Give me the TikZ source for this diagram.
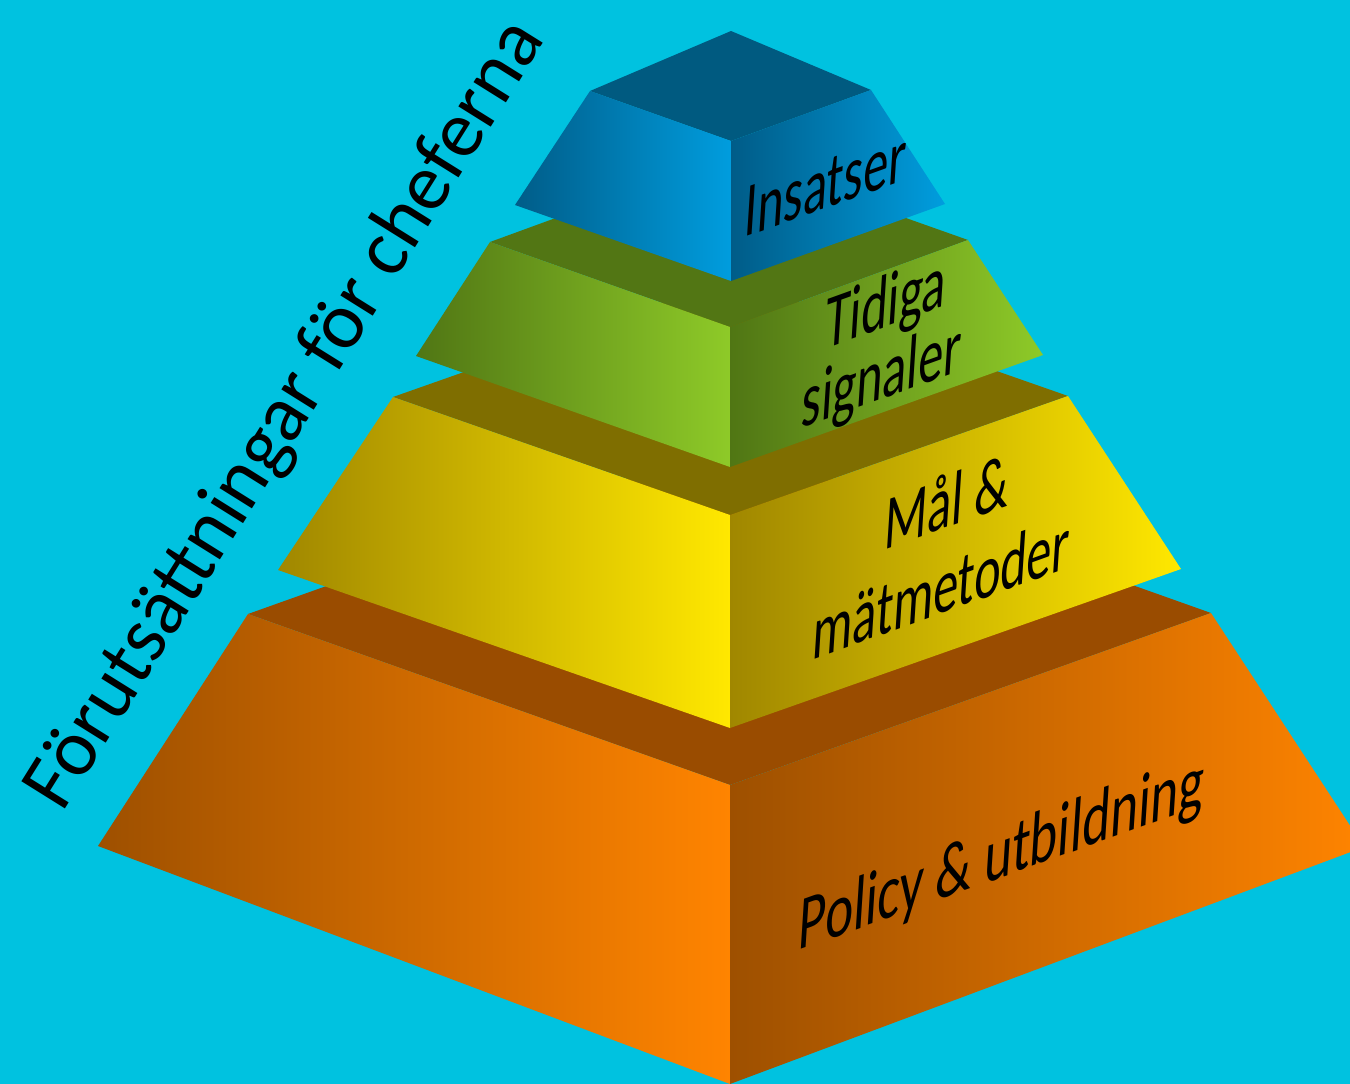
\documentclass[tikz,border=0pt]{standalone}
\usepackage{fontspec}
\setmainfont{Carlito}
\usepackage{tikz}

\definecolor{sky}{RGB}{0,194,224}
\definecolor{blueTop}{RGB}{0,90,128}
\definecolor{blueDark}{RGB}{0,92,136}
\definecolor{blueLight}{RGB}{0,157,222}
\definecolor{greenTop}{RGB}{82,118,20}
\definecolor{greenDark}{RGB}{80,118,20}
\definecolor{greenLight}{RGB}{142,202,40}
\definecolor{yellowTop}{RGB}{127,110,0}
\definecolor{yellowDark}{RGB}{160,135,0}
\definecolor{yellowLight}{RGB}{255,232,0}
\definecolor{orangeTop}{RGB}{154,76,0}
\definecolor{orangeDark}{RGB}{158,80,0}
\definecolor{orangeLight}{RGB}{255,132,0}

\begin{document}
\begin{tikzpicture}[x=1pt, y=-1pt,
	top/.style={fill=#1},
	face/.style 2 args={left color=#1, right color=#2},
	lbl/.style={font=\fontsize{76}{71}\selectfont, align=center, inner sep=0pt, anchor=base, yslant=0.36, xscale=0.66, xslant=0.1},
	title/.style={font=\fontsize{80}{80}\selectfont, inner sep=0pt, anchor=base west, rotate=58}]
	% Background
	\fill[sky] (0,0) rectangle (1350,1084);
	\useasboundingbox (0,0) rectangle (1350,1084);
	\clip (0,0) rectangle (1350,1084);
	
	% Layer 1: orange
	\fill [top=orangeTop] 	(248,614) -- (730,442) -- (1211,613) -- (730,785) -- cycle;
	\shade[face={orangeDark}{orangeLight}] 	(248,614) -- (730,785) -- (730,1084) -- (98,846) -- cycle;
	\shade[face={orangeDark}{orangeLight}] 	(730,785) -- (1211,613) -- (1364,847) -- (730,1084) -- cycle;
	
	% Layer 2: yellow
	\fill [top=yellowTop] 	(393,397) -- (731,278) -- (1068,396) -- (730,515) -- cycle;
	\shade[face={yellowDark}{yellowLight}] 	(393,397) -- (730,515) -- (730,728) -- (278,570) -- cycle;
	\shade[face={yellowDark}{yellowLight}] 	(730,515) -- (1068,396) -- (1181,569) -- (730,728) -- cycle;
	
	% Layer 3: green
	\fill [top=greenTop] 	(490,242) -- (728,155) -- (968,240) -- (730,327) -- cycle;
	\shade[face={greenDark}{greenLight}] 	(490,242) -- (730,327) -- (730,467) -- (416,356) -- cycle;
	\shade[face={greenDark}{greenLight}] 	(730,327) -- (968,240) -- (1043,355) -- (730,467) -- cycle;
	
	% Layer 4: blue
	\fill [top=blueTop] 	(590,91) -- (731,31) -- (871,90) -- (731,141) -- cycle;
	\shade[face={blueDark}{blueLight}] 	(590,91) -- (731,141) -- (731,281) -- (515,205) -- cycle;
	\shade[face={blueDark}{blueLight}] 	(731,141) -- (871,90) -- (945,204) -- (731,281) -- cycle;
	
	% Labels (base = last line)
	\node [lbl] 	(insatser) 	at (824,209) 	{Insatser};
	\node [lbl] 	(tidiga) 	at (880,400) 	{Tidiga\\signaler};
	\node [lbl] 	(mal) 		at (940,614) 	{Mål \&\\[13pt]mätmetoder};
	\node [lbl, xscale=1.06] 	(policy) 	at (1000,878) 	{Policy \& utbildning};
	\node [title] 	(title) 	at (62,814) 	{Förutsättningar för cheferna};
\end{tikzpicture}
\end{document}
